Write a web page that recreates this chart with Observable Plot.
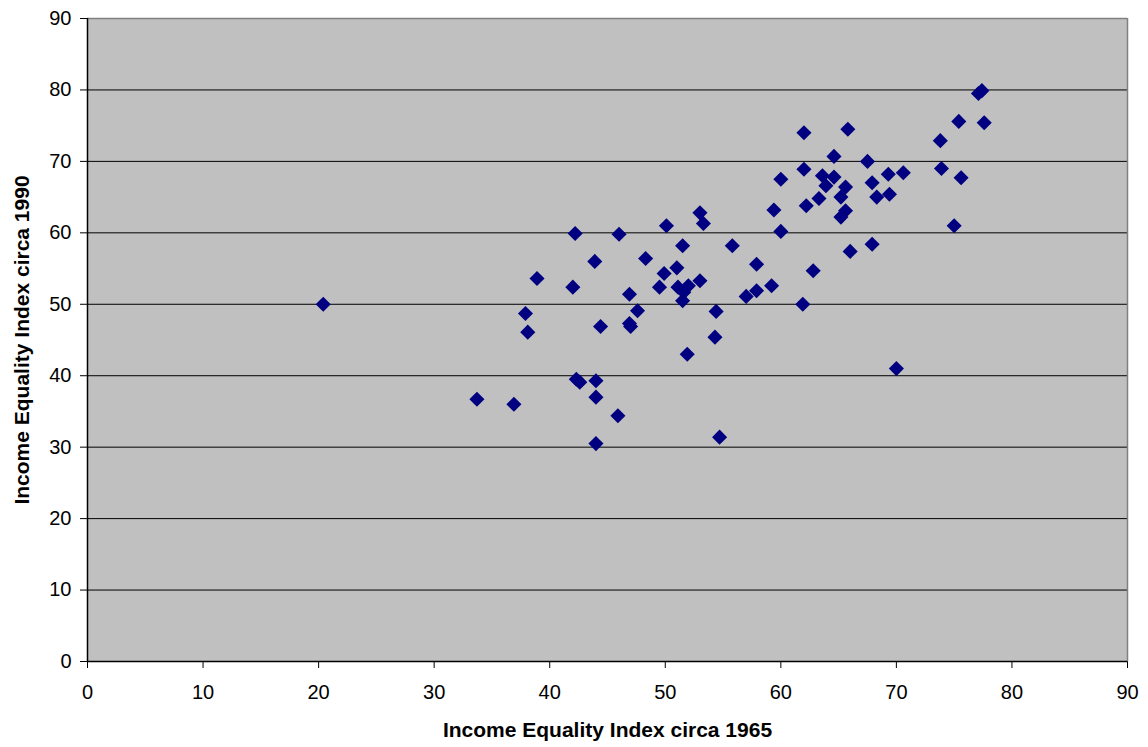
<!DOCTYPE html>
<html>
<head>
<meta charset="utf-8">
<script src="https://cdn.jsdelivr.net/npm/d3@7"></script>
<script src="https://cdn.jsdelivr.net/npm/@observablehq/plot@0.6"></script>
<style>
  html, body { margin: 0; padding: 0; background: #ffffff; }
  #chart { width: 1148px; height: 747px; }
</style>
</head>
<body>
<div id="chart"></div>
<script>
const xTitle = "Income Equality Index circa 1965";
const yTitle = "Income Equality Index circa 1990";
const xTicks = [0, 10, 20, 30, 40, 50, 60, 70, 80, 90];
const yTicks = [0, 10, 20, 30, 40, 50, 60, 70, 80, 90];

const equality1965 = [
  20.4, 33.7, 36.9, 37.9, 38.1, 38.9, 42.0, 42.2, 42.3, 42.6,
  44.0, 44.0, 44.0, 43.9, 44.4, 45.9, 46.0, 46.9, 46.9, 47.0,
  47.6, 48.3, 49.5, 49.9, 50.1, 51.0, 51.1, 51.6, 52.0, 51.5,
  51.5, 51.9, 53.0, 53.3, 53.0, 54.4, 54.3, 54.7, 55.8, 57.0,
  57.9, 57.9, 59.2, 59.4, 60.0, 60.0, 61.9, 62.0, 62.0, 62.2,
  62.8, 63.3, 63.6, 63.9, 64.6, 64.6, 65.2, 65.2, 65.6, 65.6,
  65.8, 66.0, 67.5, 67.9, 67.9, 68.3, 69.3, 69.4, 70.6, 70.0,
  73.8, 73.9, 75.0, 75.4, 75.6, 77.6, 77.1, 77.4
];
const equality1990 = [
  50.0, 36.7, 36.0, 48.7, 46.1, 53.6, 52.4, 59.9, 39.5, 39.1,
  39.3, 37.0, 30.5, 56.0, 46.9, 34.4, 59.8, 51.4, 47.3, 46.9,
  49.1, 56.4, 52.4, 54.3, 61.0, 55.1, 52.4, 51.7, 52.6, 50.5,
  58.2, 43.0, 62.8, 61.3, 53.3, 49.0, 45.4, 31.4, 58.2, 51.1,
  51.9, 55.6, 52.6, 63.2, 60.2, 67.5, 50.0, 74.0, 68.9, 63.8,
  54.7, 64.8, 68.0, 66.6, 67.8, 70.7, 65.0, 62.2, 63.1, 66.4,
  74.5, 57.4, 70.0, 67.0, 58.4, 65.0, 68.2, 65.4, 68.4, 41.0,
  72.9, 69.0, 61.0, 75.6, 67.7, 75.4, 79.5, 79.9
];

const points = equality1965.map((x, i) => ({x, y: equality1990[i]}));

const chart = Plot.plot({
  width: 1148,
  height: 747,
  marginLeft: 87,
  marginRight: 21,
  marginTop: 18,
  marginBottom: 86,
  style: {
    fontFamily: "'Liberation Sans', Arial, Helvetica, sans-serif",
    fontSize: "20px",
    color: "#000000",
    background: "#ffffff",
    overflow: "visible"
  },
  x: {domain: [0, 90], ticks: xTicks, tickSize: 7, tickPadding: 16, label: null},
  y: {domain: [0, 90], ticks: yTicks, tickSize: 7, tickPadding: 9, label: null},
  marks: [
    Plot.frame({fill: "#c0c0c0", stroke: "none"}),
    Plot.ruleY(yTicks.filter(d => d > 0 && d < 90), {stroke: "#000000", strokeWidth: 1}),
    Plot.ruleY([90], {stroke: "#808080", strokeWidth: 1.5}),
    Plot.ruleX([90], {stroke: "#808080", strokeWidth: 1.5}),
    Plot.dot(points, {x: "x", y: "y", symbol: "diamond2", r: 6.8, fill: "#000080", stroke: "none"}),
    Plot.ruleX([0], {stroke: "#000000", strokeWidth: 1.5}),
    Plot.ruleY([0], {stroke: "#000000", strokeWidth: 1.5}),
    Plot.text([yTitle], {frameAnchor: "left", dx: -65, rotate: -90, text: d => d, textAnchor: "middle", lineAnchor: "middle", fontWeight: "bold", fontSize: 21, fill: "#000000"}),
    Plot.text([xTitle], {frameAnchor: "bottom", dy: 69, text: d => d, textAnchor: "middle", lineAnchor: "middle", fontWeight: "bold", fontSize: 21, fill: "#000000"})
  ]
});
document.getElementById("chart").appendChild(chart);
</script>
</body>
</html>
